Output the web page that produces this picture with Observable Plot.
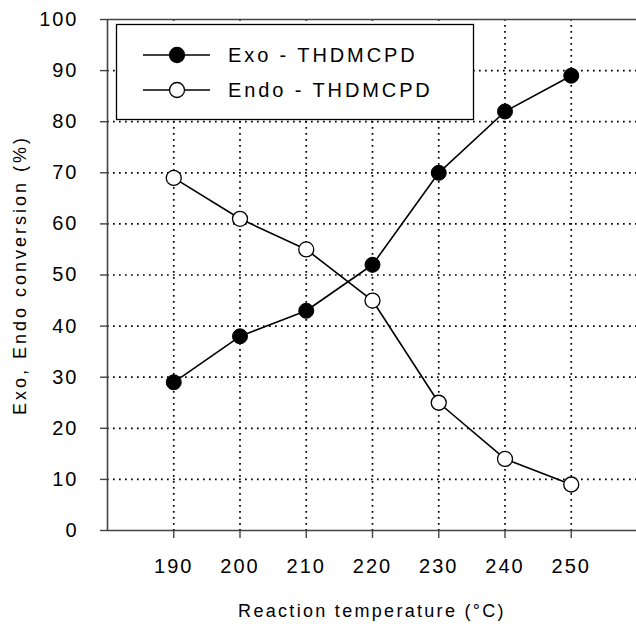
<!DOCTYPE html>
<html>
<head>
<meta charset="utf-8">
<script src="https://cdn.jsdelivr.net/npm/d3@7"></script>
<script src="https://cdn.jsdelivr.net/npm/@observablehq/plot@0.6"></script>
<style>
  html, body { margin: 0; padding: 0; background: #fff; }
  #chart svg { font-family: "Liberation Sans", Arial, sans-serif; display: block; }
  g[aria-label="y-axis tick label"] text,
  g[aria-label="x-axis tick label"] text { letter-spacing: 2px; }
  g.xlab text { letter-spacing: 2.3px; }
  g.ylab text { letter-spacing: 3px; }
</style>
</head>
<body>
<div id="chart"></div>
<script>
const temperatures = [190, 200, 210, 220, 230, 240, 250];
const exoConversion = [29, 38, 43, 52, 70, 82, 89];
const endoConversion = [69, 61, 55, 45, 25, 14, 9];
const seriesNames = ["Exo - THDMCPD", "Endo - THDMCPD"];
const xTicks = [190, 200, 210, 220, 230, 240, 250];
const yTicks = [0, 10, 20, 30, 40, 50, 60, 70, 80, 90, 100];
const yGrid = [10, 20, 30, 40, 50, 60, 70, 80, 90];
const xLabel = "Reaction temperature (°C)";
const yLabel = "Exo, Endo conversion (%)";

const exo = temperatures.map((t, i) => ({t, v: exoConversion[i]}));
const endo = temperatures.map((t, i) => ({t, v: endoConversion[i]}));

const W = 636, H = 624;
const chart = Plot.plot({
  width: W,
  height: H,
  marginLeft: 107,
  marginRight: 0,
  marginTop: 19,
  marginBottom: 94,
  style: {background: "#fff", color: "#000", fontSize: "20px", fontFamily: "Liberation Sans, Arial, sans-serif"},
  x: {domain: [180, 260], range: [107, 637]},
  y: {domain: [0, 100], range: [530, 19]},
  marks: [
    Plot.gridX(xTicks, {stroke: "#000", strokeOpacity: 1, strokeWidth: 1.7, strokeDasharray: "1.7,4.3"}),
    Plot.gridY(yGrid, {stroke: "#000", strokeOpacity: 1, strokeWidth: 1.7, strokeDasharray: "1.7,4.3"}),
    Plot.ruleY([0, 100], {stroke: "#444", strokeWidth: 1.6}),
    Plot.ruleX([180], {stroke: "#444", strokeWidth: 1.6}),
    Plot.axisY(yTicks, {tickSize: 7, tickPadding: 22, stroke: "#444", strokeWidth: 1.4, label: null, fontSize: 20}),
    Plot.axisX(xTicks, {tickSize: 8, tickPadding: 20, stroke: "#444", strokeWidth: 1.4, label: null, fontSize: 20}),
    Plot.line(exo, {x: "t", y: "v", stroke: "#000", strokeWidth: 1.6}),
    Plot.line(endo, {x: "t", y: "v", stroke: "#000", strokeWidth: 1.6}),
    Plot.dot(exo, {x: "t", y: "v", r: 7.5, fill: "#000", stroke: "#000", strokeWidth: 1}),
    Plot.dot(endo, {x: "t", y: "v", r: 7.5, fill: "#fff", stroke: "#000", strokeWidth: 1.3}),
    Plot.text([xLabel], {frameAnchor: "bottom", textAnchor: "middle", lineAnchor: "middle", dy: 81, fontSize: 18, fill: "#000", className: "xlab"}),
    Plot.text([yLabel], {frameAnchor: "left", textAnchor: "middle", lineAnchor: "middle", rotate: -90, dx: -87, fontSize: 18, fill: "#000", className: "ylab"})
  ]
});
document.getElementById("chart").appendChild(chart);

// Legend box inside the plot area
const svg = d3.select(chart);
const lg = svg.append("g").attr("aria-label", "legend").attr("text-anchor", "start");
lg.append("rect").attr("x", 116.5).attr("y", 24.5).attr("width", 357).attr("height", 95)
  .attr("fill", "#fff").attr("stroke", "#000").attr("stroke-width", 1.3);
const styles = [{fill: "#000"}, {fill: "#fff"}];
seriesNames.forEach((name, i) => {
  const y = 55 + i * 35;
  lg.append("line").attr("x1", 143).attr("x2", 210).attr("y1", y).attr("y2", y)
    .attr("stroke", "#000").attr("stroke-width", 1.6);
  lg.append("circle").attr("cx", 177).attr("cy", y).attr("r", 7.5)
    .attr("fill", styles[i].fill).attr("stroke", "#000").attr("stroke-width", 1.3);
  lg.append("text").attr("x", 228).attr("y", y).attr("dy", "0.36em")
    .attr("text-anchor", "start")
    .attr("font-size", 20).attr("letter-spacing", "2.9px").attr("fill", "#000").text(name);
});
</script>
</body>
</html>
